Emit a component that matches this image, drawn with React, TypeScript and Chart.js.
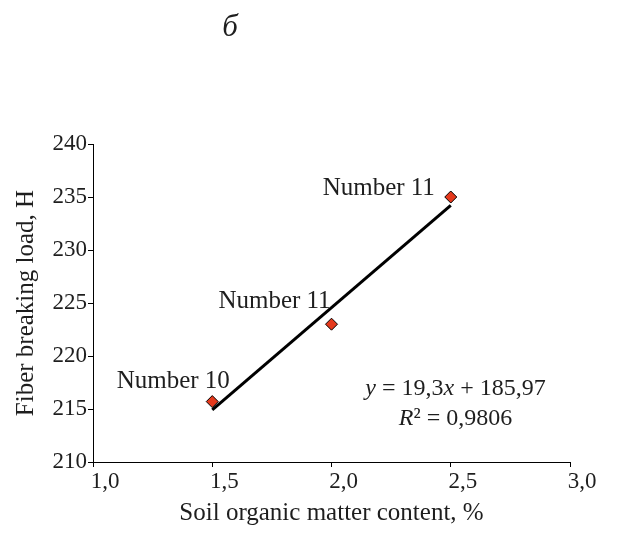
import React, { useEffect, useRef } from "react";
import { Chart, registerables } from "chart.js";

Chart.register(...registerables);

const organicMatter = [1.5, 2.0, 2.5];
const breakingLoad = [215.7, 223.0, 235.0];
const pointLabels = ["Number 10", "Number 11", "Number 11"];
const trendX = [1.5, 2.5];
const trendY = [214.92, 234.22];
const equationLines = ["y = 19,3x + 185,97", "R² = 0,9806"];
const panelLetter = "б";
const xTitle = "Soil organic matter content, %";
const yTitle = "Fiber breaking load, H";

const SERIF = "'Liberation Serif', 'Times New Roman', serif";
const TEXT = "#1e1e1e";

const labelOffsets = [
  [-39, -14],
  [-57, -16],
  [-72, -2],
];

const annotationPlugin = {
  id: "annotations",
  afterDatasetsDraw(chart: any) {
    const { ctx, scales } = chart;
    const xs = scales.x;
    const ys = scales.y;
    ctx.save();
    ctx.fillStyle = TEXT;
    ctx.textAlign = "center";
    ctx.textBaseline = "alphabetic";
    ctx.font = `25px ${SERIF}`;
    pointLabels.forEach((t, i) => {
      const px = xs.getPixelForValue(organicMatter[i]);
      const py = ys.getPixelForValue(breakingLoad[i]);
      ctx.fillText(t, px + labelOffsets[i][0], py + labelOffsets[i][1]);
    });
    // equation
    const ex = xs.getPixelForValue(2.52);
    const ey = ys.getPixelForValue(216.3);
    drawEquation(ctx, ex, ey);
    // panel letter
    ctx.font = `italic 31px ${SERIF}`;
    ctx.textAlign = "center";
    ctx.textBaseline = "middle";
    ctx.fillText(panelLetter, 230, 28);
    ctx.restore();
  },
};

function drawRuns(ctx: any, runs: [string, boolean][], cx: number, y: number, size: number) {
  let total = 0;
  runs.forEach(([t, it]) => {
    ctx.font = `${it ? "italic " : ""}${size}px ${SERIF}`;
    total += ctx.measureText(t).width;
  });
  let x = cx - total / 2;
  ctx.textAlign = "left";
  runs.forEach(([t, it]) => {
    ctx.font = `${it ? "italic " : ""}${size}px ${SERIF}`;
    ctx.fillText(t, x, y);
    x += ctx.measureText(t).width;
  });
}

function drawEquation(ctx: any, cx: number, y: number) {
  const l1 = equationLines[0];
  const l2 = equationLines[1];
  drawRuns(ctx, [["y", true], [l1.slice(1, 8), false], ["x", true], [l1.slice(9), false]], cx, y, 24);
  drawRuns(ctx, [["R", true], [l2.slice(1), false]], cx, y + 30, 24);
}

export default function App() {
  const ref = useRef<HTMLCanvasElement>(null);
  useEffect(() => {
    if (!ref.current) return;
    const chart = new Chart(ref.current, {
      type: "scatter",
      data: {
        datasets: [
          {
            type: "line",
            data: trendX.map((x, i) => ({ x, y: trendY[i] })),
            borderColor: "#000",
            borderWidth: 3,
            pointRadius: 0,
            fill: false,
          } as any,
          {
            data: organicMatter.map((x, i) => ({ x, y: breakingLoad[i] })),
            pointStyle: "rectRot",
            pointRadius: 6,
            backgroundColor: "#e5391c",
            borderColor: "#000",
            borderWidth: 1,
          },
        ],
      },
      options: {
        animation: false,
        responsive: false,
        maintainAspectRatio: false,
        layout: { padding: { left: 0, right: 54, top: 144, bottom: 0 } },
        plugins: { legend: { display: false }, tooltip: { enabled: false } },
        scales: {
          x: {
            type: "linear",
            min: 1,
            max: 3,
            afterFit: (s: any) => {
              s.height = 74;
            },
            ticks: {
              stepSize: 0.5,
              padding: 1,
              labelOffset: 12,
              color: TEXT,
              font: { family: SERIF, size: 23 },
              callback: (v: any) => Number(v).toFixed(1).replace(".", ","),
            },
            grid: { drawOnChartArea: false, drawTicks: true, tickLength: 5, color: "#000" },
            border: { display: true, color: "#000", width: 1 },
            title: {
              display: true,
              text: xTitle,
              color: TEXT,
              font: { family: SERIF, size: 25 },
              padding: { top: 0, bottom: 8 },
            },
          },
          y: {
            min: 210,
            max: 240,
            afterFit: (s: any) => {
              s.width = 93;
            },
            ticks: {
              stepSize: 5,
              padding: 1,
              color: TEXT,
              font: { family: SERIF, size: 23 },
            },
            grid: { drawOnChartArea: false, drawTicks: true, tickLength: 5, color: "#000" },
            border: { display: true, color: "#000", width: 1 },
            title: {
              display: true,
              text: yTitle,
              color: TEXT,
              font: { family: SERIF, size: 25 },
              padding: { top: 11, bottom: 0 },
            },
          },
        },
      },
      plugins: [annotationPlugin],
    });
    return () => chart.destroy();
  }, []);
  return (
    <div style={{ position: "absolute", left: 0, top: 0, width: 624, height: 536, background: "#fff" }}>
      <canvas ref={ref} width={624} height={536} style={{ display: "block" }} />
    </div>
  );
}
